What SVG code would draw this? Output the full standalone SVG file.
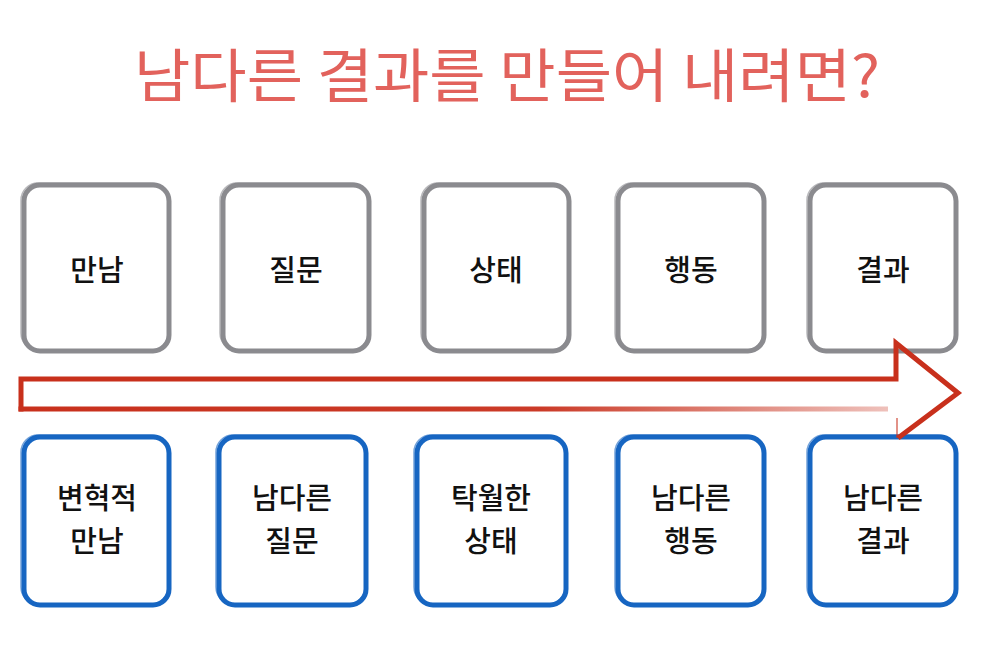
<svg xmlns="http://www.w3.org/2000/svg" width="990" height="662" viewBox="0 0 990 662">
<defs>
<linearGradient id="fade" gradientUnits="userSpaceOnUse" x1="21" y1="0" x2="888" y2="0">
<stop offset="0" stop-color="#c8301c" stop-opacity="1"/>
<stop offset="0.6" stop-color="#c8301c" stop-opacity="0.95"/>
<stop offset="1" stop-color="#c8301c" stop-opacity="0.3"/>
</linearGradient>
</defs>
<style>
.g{fill:none;stroke:#8b8b8f;stroke-width:5}
.g2{fill:none;stroke:#8b8b8f;stroke-width:1.5;opacity:0.6}
.b{fill:none;stroke:#1766c2;stroke-width:5}
.b2{fill:none;stroke:#1766c2;stroke-width:1.5;opacity:0.6}
.t{font-family:"Noto Sans CJK KR","Noto Sans",sans-serif;font-weight:500;font-size:29px;fill:#111;text-anchor:middle}
.title{font-family:"Noto Sans CJK KR","Noto Sans",sans-serif;font-weight:400;font-size:58px;fill:#e2625c}
</style>
<rect width="990" height="662" fill="#fff"/>
<text class="title" x="134" y="97" textLength="746" lengthAdjust="spacingAndGlyphs">남다른 결과를 만들어 내려면?</text>

<g id="top1"><rect class="g" x="24" y="185" width="145" height="166" rx="16"/><rect class="g2" x="21" y="183" width="147" height="167" rx="17"/><text class="t" x="97" y="281">만남</text></g>
<g id="top2"><rect class="g" x="223" y="185" width="146" height="166" rx="16"/><rect class="g2" x="220" y="183" width="148" height="167" rx="17"/><text class="t" x="296" y="281">질문</text></g>
<g id="top3"><rect class="g" x="424" y="185" width="145" height="166" rx="16"/><rect class="g2" x="421" y="183" width="147" height="167" rx="17"/><text class="t" x="496" y="281">상태</text></g>
<g id="top4"><rect class="g" x="618" y="185" width="146" height="166" rx="16"/><rect class="g2" x="615" y="183" width="148" height="167" rx="17"/><text class="t" x="691" y="281">행동</text></g>
<g id="top5"><rect class="g" x="810" y="185" width="146" height="166" rx="16"/><rect class="g2" x="807" y="183" width="148" height="167" rx="17"/><text class="t" x="883" y="281">결과</text></g>

<g id="bot1"><rect class="b" x="24" y="437" width="145" height="168" rx="16"/><rect class="b2" x="21" y="435" width="147" height="169" rx="17"/><text class="t" x="97" y="509">변혁적</text><text class="t" x="97" y="551.5">만남</text></g>
<g id="bot2"><rect class="b" x="219" y="437" width="147" height="168" rx="16"/><rect class="b2" x="216" y="435" width="149" height="169" rx="17"/><text class="t" x="292" y="509">남다른</text><text class="t" x="292" y="551.5">질문</text></g>
<g id="bot3"><rect class="b" x="417" y="437" width="149" height="168" rx="16"/><rect class="b2" x="414" y="435" width="151" height="169" rx="17"/><text class="t" x="491" y="509">탁월한</text><text class="t" x="491" y="551.5">상태</text></g>
<g id="bot4"><rect class="b" x="618" y="437" width="146" height="168" rx="16"/><rect class="b2" x="615" y="435" width="148" height="169" rx="17"/><text class="t" x="691" y="509">남다른</text><text class="t" x="691" y="551.5">행동</text></g>
<g id="bot5"><rect class="b" x="810" y="437" width="146" height="168" rx="16"/><rect class="b2" x="807" y="435" width="148" height="169" rx="17"/><text class="t" x="883" y="509">남다른</text><text class="t" x="883" y="551.5">결과</text></g>

<g id="connectors">
<path d="M21 411.5 L21 379 L896 379 L896 343 L958 393 L898 438" fill="none" stroke="#c8301c" stroke-width="5" stroke-linejoin="miter"/>
<path d="M18.5 409 L888 409" fill="none" stroke="url(#fade)" stroke-width="5"/>
<path d="M897 418 L897 438" fill="none" stroke="#c8301c" stroke-width="1.5" opacity="0.7"/>
</g>
</svg>
